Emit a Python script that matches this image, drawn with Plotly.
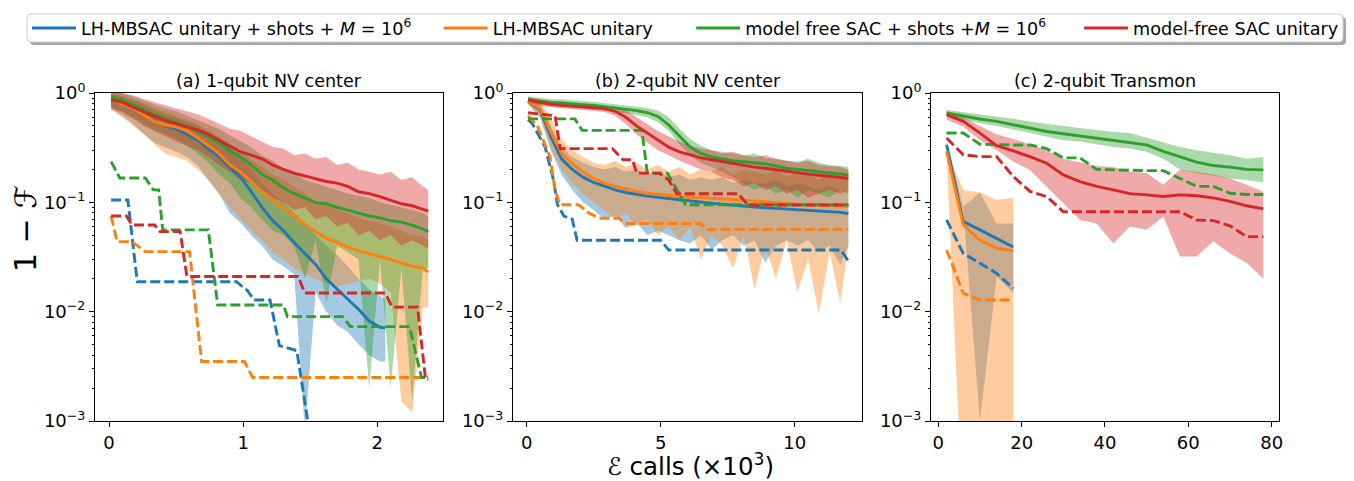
import plotly.graph_objects as go

W, H = 1354, 481

# ---------------- data ----------------
series_names = [
    "LH-MBSAC unitary + shots + <i>M</i> = 10<sup>6</sup>",
    "LH-MBSAC unitary",
    "model free SAC + shots +<i>M</i> = 10<sup>6</sup>",
    "model-free SAC unitary",
]
legend_pad = [4, 6, 5, 0]  # non-breaking spaces after each legend label
series_colors = ["#1f77b4", "#ff7f0e", "#2ca02c", "#d62728"]
band_colors = ["rgba(31,119,180,0.4)", "rgba(255,127,14,0.4)",
               "rgba(44,160,44,0.4)", "rgba(214,39,40,0.4)"]

panel_titles = ["(a) 1-qubit NV center", "(b) 2-qubit NV center", "(c) 2-qubit Transmon"]

# Panel (a)
xa = [0.015, 0.10, 0.18, 0.26, 0.34, 0.42, 0.50, 0.58, 0.66, 0.74, 0.82, 0.90, 0.98,
      1.06, 1.14, 1.22, 1.30, 1.38, 1.46, 1.54, 1.62, 1.70, 1.78, 1.86, 1.94, 2.02,
      2.10, 2.18, 2.26, 2.34, 2.38]
xa_blue = [0.015, 0.10, 0.18, 0.26, 0.34, 0.42, 0.50, 0.58, 0.66, 0.74, 0.82, 0.90, 0.98,
           1.06, 1.14, 1.22, 1.30, 1.38, 1.46, 1.54, 1.62, 1.70, 1.78, 1.86, 1.94, 2.02, 2.06]
a_blue_mean = [0.87, 0.80, 0.72, 0.63, 0.56, 0.50, 0.47, 0.42, 0.37, 0.31, 0.26, 0.21, 0.17,
               0.125, 0.09, 0.068, 0.055, 0.043, 0.034, 0.027, 0.02, 0.016, 0.013, 0.0105,
               0.0082, 0.0072, 0.0071]
a_blue_hi = [0.98, 0.92, 0.85, 0.78, 0.70, 0.64, 0.60, 0.55, 0.50, 0.44, 0.38, 0.32, 0.26,
             0.20, 0.15, 0.12, 0.10, 0.08, 0.065, 0.05, 0.04, 0.033, 0.026, 0.02, 0.016,
             0.014, 0.013]
a_blue_lo = [0.72, 0.62, 0.52, 0.42, 0.35, 0.32, 0.29, 0.26, 0.22, 0.16, 0.12, 0.08, 0.065,
             0.05, 0.04, 0.03, 0.026, 0.022, 0.0008, 0.015, 0.01, 0.0075, 0.0065, 0.005,
             0.004, 0.0035, 0.0035]
a_orange_mean = [0.88, 0.80, 0.72, 0.63, 0.55, 0.51, 0.49, 0.45, 0.39, 0.33, 0.28, 0.22, 0.19,
                 0.155, 0.125, 0.105, 0.09, 0.075, 0.063, 0.054, 0.047, 0.043, 0.039, 0.036,
                 0.034, 0.032, 0.03, 0.028, 0.026, 0.025, 0.023]
a_orange_hi = [1.0, 0.95, 0.88, 0.80, 0.72, 0.66, 0.62, 0.57, 0.52, 0.46, 0.40, 0.34, 0.29,
               0.25, 0.21, 0.18, 0.16, 0.14, 0.12, 0.10, 0.095, 0.085, 0.08, 0.072, 0.068,
               0.065, 0.06, 0.055, 0.05, 0.05, 0.045]
a_orange_lo = [0.70, 0.60, 0.50, 0.42, 0.34, 0.28, 0.26, 0.24, 0.20, 0.16, 0.12, 0.09, 0.07,
               0.055, 0.045, 0.035, 0.03, 0.025, 0.022, 0.02, 0.018, 0.017, 0.018, 0.019,
               0.02, 0.018, 0.015, 0.0015, 0.0012, 0.011, 0.011]
a_green_mean = [0.92, 0.86, 0.78, 0.70, 0.63, 0.58, 0.54, 0.50, 0.45, 0.40, 0.35, 0.30, 0.26,
                0.22, 0.18, 0.16, 0.135, 0.12, 0.11, 0.10, 0.097, 0.09, 0.085, 0.08, 0.075,
                0.072, 0.068, 0.066, 0.062, 0.057, 0.054]
a_green_hi = [1.05, 1.0, 0.93, 0.85, 0.78, 0.72, 0.68, 0.62, 0.57, 0.52, 0.47, 0.41, 0.36,
              0.32, 0.27, 0.24, 0.20, 0.19, 0.16, 0.15, 0.14, 0.13, 0.12, 0.115, 0.11, 0.10,
              0.095, 0.09, 0.085, 0.08, 0.075]
a_green_lo = [0.75, 0.68, 0.60, 0.52, 0.46, 0.42, 0.38, 0.33, 0.28, 0.23, 0.18, 0.15, 0.11,
              0.09, 0.07, 0.055, 0.05, 0.04, 0.02, 0.045, 0.012, 0.04, 0.035, 0.03, 0.002,
              0.03, 0.002, 0.025, 0.0015, 0.025, 0.025]
a_red_mean = [0.87, 0.82, 0.74, 0.67, 0.61, 0.56, 0.52, 0.49, 0.46, 0.42, 0.37, 0.33, 0.29,
              0.27, 0.25, 0.22, 0.20, 0.185, 0.175, 0.165, 0.155, 0.15, 0.14, 0.125, 0.12,
              0.113, 0.105, 0.097, 0.093, 0.087, 0.083]
a_red_hi = [1.05, 1.0, 0.95, 0.88, 0.82, 0.76, 0.72, 0.68, 0.64, 0.58, 0.52, 0.47, 0.45,
            0.40, 0.36, 0.32, 0.31, 0.27, 0.28, 0.25, 0.26, 0.22, 0.23, 0.20, 0.19, 0.18,
            0.19, 0.16, 0.17, 0.14, 0.13]
a_red_lo = [0.72, 0.66, 0.58, 0.50, 0.45, 0.40, 0.36, 0.33, 0.30, 0.26, 0.22, 0.19, 0.16,
            0.15, 0.13, 0.11, 0.10, 0.085, 0.09, 0.07, 0.075, 0.06, 0.065, 0.05, 0.055,
            0.045, 0.05, 0.04, 0.045, 0.04, 0.038]

a_blue_dash_x = [0.015, 0.14, 0.21, 0.95, 1.03, 1.08, 1.20, 1.27, 1.40, 1.52]
a_blue_dash_y = [0.105, 0.105, 0.0188, 0.0188, 0.0157, 0.0128, 0.0128, 0.0049, 0.0044, 0.0005]
a_orange_dash_x = [0.015, 0.06, 0.17, 0.27, 0.60, 0.69, 1.01, 1.07, 2.38]
a_orange_dash_y = [0.075, 0.0437, 0.0437, 0.0354, 0.0354, 0.0035, 0.0035, 0.0025, 0.0025]
a_green_dash_x = [0.015, 0.08, 0.27, 0.33, 0.37, 0.40, 0.74, 0.81, 1.30, 1.33, 1.74, 1.80,
                  2.24, 2.33, 2.38]
a_green_dash_y = [0.236, 0.167, 0.167, 0.13, 0.13, 0.056, 0.056, 0.0115, 0.0115, 0.009,
                  0.009, 0.0073, 0.0073, 0.0025, 0.0025]
a_red_dash_x = [0.015, 0.13, 0.17, 0.34, 0.38, 0.53, 0.58, 1.41, 1.46, 2.06, 2.11, 2.30,
                2.36, 2.38]
a_red_dash_y = [0.075, 0.075, 0.062, 0.062, 0.054, 0.054, 0.021, 0.021, 0.0148, 0.0148,
                0.011, 0.011, 0.0024, 0.0024]

# Panel (b)
xb = [0.05, 0.5, 0.9, 1.3, 1.7, 2.1, 2.5, 2.9, 3.3, 3.7, 4.1, 4.5, 4.9, 5.3, 5.7, 6.1, 6.5,
      6.9, 7.3, 7.7, 8.1, 8.5, 8.9, 9.3, 9.7, 10.1, 10.5, 10.9, 11.3, 11.7, 12.0]
b_blue_mean = [0.84, 0.70, 0.40, 0.25, 0.20, 0.17, 0.152, 0.14, 0.13, 0.123, 0.118, 0.114,
               0.111, 0.108, 0.105, 0.103, 0.10, 0.098, 0.096, 0.094, 0.092, 0.09, 0.089,
               0.088, 0.087, 0.086, 0.085, 0.084, 0.082, 0.081, 0.079]
b_blue_hi = [0.88, 0.80, 0.50, 0.32, 0.26, 0.23, 0.21, 0.20, 0.21, 0.19, 0.20, 0.18, 0.19,
             0.17, 0.18, 0.16, 0.17, 0.16, 0.17, 0.15, 0.16, 0.15, 0.15, 0.16, 0.14, 0.15,
             0.14, 0.13, 0.14, 0.13, 0.13]
b_blue_lo = [0.80, 0.60, 0.30, 0.18, 0.13, 0.10, 0.085, 0.07, 0.075, 0.058, 0.065, 0.05,
             0.055, 0.05, 0.045, 0.042, 0.05, 0.037, 0.045, 0.05, 0.04, 0.045, 0.028, 0.04,
             0.045, 0.04, 0.045, 0.035, 0.04, 0.027, 0.04]
b_orange_mean = [0.84, 0.72, 0.44, 0.28, 0.225, 0.19, 0.165, 0.15, 0.14, 0.132, 0.126,
                 0.121, 0.118, 0.115, 0.113, 0.112, 0.11, 0.109, 0.108, 0.106, 0.104, 0.102,
                 0.10, 0.099, 0.097, 0.096, 0.095, 0.094, 0.093, 0.092, 0.092]
b_orange_hi = [0.90, 0.85, 0.58, 0.38, 0.30, 0.26, 0.23, 0.22, 0.24, 0.21, 0.23, 0.20, 0.22,
               0.19, 0.21, 0.18, 0.20, 0.19, 0.21, 0.18, 0.20, 0.19, 0.18, 0.20, 0.17, 0.19,
               0.18, 0.16, 0.18, 0.16, 0.17]
b_orange_lo = [0.78, 0.60, 0.32, 0.20, 0.15, 0.12, 0.10, 0.085, 0.07, 0.08, 0.06, 0.07,
               0.05, 0.06, 0.045, 0.06, 0.03, 0.05, 0.04, 0.025, 0.05, 0.016, 0.04, 0.02,
               0.045, 0.015, 0.03, 0.0095, 0.035, 0.012, 0.04]
b_green_mean = [0.87, 0.84, 0.82, 0.81, 0.80, 0.78, 0.77, 0.75, 0.73, 0.71, 0.69, 0.66, 0.61,
                0.51, 0.40, 0.32, 0.28, 0.26, 0.25, 0.24, 0.235, 0.23, 0.225, 0.215, 0.205,
                0.20, 0.195, 0.19, 0.185, 0.18, 0.178]
b_green_hi = [0.93, 0.90, 0.88, 0.87, 0.86, 0.84, 0.83, 0.81, 0.79, 0.77, 0.75, 0.73, 0.69,
              0.60, 0.47, 0.38, 0.33, 0.30, 0.29, 0.28, 0.27, 0.28, 0.255, 0.25, 0.24, 0.235,
              0.25, 0.23, 0.22, 0.215, 0.21]
b_green_lo = [0.81, 0.78, 0.76, 0.75, 0.74, 0.72, 0.71, 0.69, 0.67, 0.65, 0.63, 0.60, 0.54,
              0.45, 0.34, 0.27, 0.23, 0.21, 0.19, 0.17, 0.15, 0.13, 0.14, 0.12, 0.13, 0.11,
              0.13, 0.12, 0.11, 0.13, 0.12]
b_red_mean = [0.86, 0.82, 0.79, 0.77, 0.76, 0.75, 0.74, 0.72, 0.68, 0.60, 0.50, 0.43, 0.37,
              0.32, 0.29, 0.27, 0.255, 0.245, 0.235, 0.225, 0.218, 0.21, 0.205, 0.198, 0.192,
              0.186, 0.181, 0.177, 0.173, 0.169, 0.166]
b_red_hi = [0.92, 0.87, 0.84, 0.82, 0.81, 0.80, 0.79, 0.77, 0.75, 0.70, 0.60, 0.52, 0.45,
            0.40, 0.36, 0.33, 0.31, 0.30, 0.28, 0.29, 0.27, 0.26, 0.27, 0.25, 0.24, 0.23,
            0.24, 0.22, 0.215, 0.21, 0.20]
b_red_lo = [0.80, 0.77, 0.74, 0.72, 0.71, 0.70, 0.69, 0.67, 0.62, 0.52, 0.42, 0.35, 0.30,
            0.27, 0.24, 0.22, 0.20, 0.19, 0.17, 0.16, 0.14, 0.15, 0.13, 0.14, 0.12, 0.13,
            0.11, 0.12, 0.13, 0.12, 0.13]

b_blue_dash_x = [0.05, 0.2, 0.69, 1.0, 1.15, 1.39, 1.7, 1.88, 5.0, 5.3, 11.73, 12.0]
b_blue_dash_y = [0.57, 0.53, 0.32, 0.16, 0.095, 0.075, 0.07, 0.045, 0.045, 0.0366, 0.0366, 0.029]
b_orange_dash_x = [0.05, 0.4, 0.87, 1.06, 1.24, 1.94, 2.32, 2.7, 3.45, 3.68, 6.5, 6.68, 12.0]
b_orange_dash_y = [0.62, 0.5, 0.26, 0.13, 0.095, 0.095, 0.08, 0.0715, 0.0715, 0.064, 0.064,
                   0.0566, 0.0566]
b_green_dash_x = [0.05, 1.8, 2.07, 4.3, 4.5, 5.25, 5.93, 12.0]
b_green_dash_y = [0.58, 0.58, 0.455, 0.455, 0.185, 0.185, 0.095, 0.095]
b_red_dash_x = [0.05, 1.06, 1.25, 3.2, 3.6, 3.95, 4.1, 4.95, 5.3, 5.6, 7.9, 8.25, 12.0]
b_red_dash_y = [0.66, 0.62, 0.31, 0.31, 0.245, 0.245, 0.185, 0.185, 0.16, 0.12, 0.12,
                0.0946, 0.0946]

# Panel (c)
xc = [2, 6, 10, 14, 18, 22, 26, 30, 34, 38, 42, 46, 50, 54, 58, 62, 66, 70, 74, 78]
xc_short = [2, 6, 10, 14, 18]
c_blue_mean = [0.336, 0.0666, 0.056, 0.047, 0.039]
c_blue_hi = [0.36, 0.091, 0.123, 0.064, 0.064]
c_blue_lo = [0.31, 0.085, 0.001, 0.021, 0.0147]
c_orange_mean = [0.292, 0.062, 0.045, 0.038, 0.036]
c_orange_hi = [0.30, 0.13, 0.123, 0.105, 0.11]
c_orange_lo = [0.28, 0.0001, 0.0001, 0.0001, 0.0001]
c_green_mean = [0.656, 0.611, 0.578, 0.55, 0.513, 0.478, 0.445, 0.424, 0.406, 0.387, 0.368,
                0.355, 0.336, 0.292, 0.263, 0.233, 0.217, 0.21, 0.20, 0.198]
c_green_hi = [0.70, 0.67, 0.64, 0.61, 0.58, 0.55, 0.52, 0.50, 0.48, 0.46, 0.44, 0.43, 0.39,
              0.35, 0.32, 0.30, 0.285, 0.27, 0.25, 0.26]
c_green_lo = [0.62, 0.57, 0.53, 0.50, 0.46, 0.43, 0.40, 0.37, 0.36, 0.34, 0.32, 0.31, 0.29,
              0.25, 0.20, 0.185, 0.175, 0.165, 0.16, 0.152]
c_red_mean = [0.633, 0.55, 0.43, 0.33, 0.295, 0.262, 0.228, 0.178, 0.155, 0.14, 0.13, 0.12,
              0.117, 0.113, 0.117, 0.115, 0.11, 0.102, 0.093, 0.087]
c_red_hi = [0.68, 0.60, 0.50, 0.42, 0.38, 0.34, 0.30, 0.25, 0.23, 0.215, 0.21, 0.19, 0.185,
            0.145, 0.20, 0.19, 0.18, 0.165, 0.145, 0.125]
c_red_lo = [0.57, 0.495, 0.37, 0.30, 0.236, 0.198, 0.14, 0.098, 0.069, 0.064, 0.042, 0.06,
            0.056, 0.074, 0.032, 0.032, 0.044, 0.034, 0.028, 0.02]
c_blue_dash = [0.069, 0.034, 0.0277, 0.0224, 0.0163]
c_orange_dash = [0.0366, 0.0147, 0.0128, 0.0128, 0.0128]
c_green_dash = [0.43, 0.43, 0.34, 0.335, 0.335, 0.335, 0.31, 0.255, 0.255, 0.20, 0.198,
                0.195, 0.195, 0.195, 0.165, 0.14, 0.14, 0.121, 0.118, 0.118]
c_red_dash = [0.387, 0.272, 0.262, 0.262, 0.172, 0.126, 0.113, 0.082, 0.082, 0.082, 0.082,
              0.082, 0.082, 0.082, 0.082, 0.069, 0.068, 0.061, 0.0486, 0.0486]

y_tick_vals = [0.001, 0.01, 0.1, 1]
y_tick_text = ["10<sup>\u22123</sup>", "10<sup>\u22122</sup>", "10<sup>\u22121</sup>", "10<sup>0</sup>"]
x_ticks = [[0, 1, 2], [0, 5, 10], [0, 20, 40, 60, 80]]

# ---------------- layout geometry ----------------
FONT = "DejaVu Sans"
panel_px = [(95, 443), (513, 862), (931, 1279)]
y_top, y_bot = 93, 421
x_ranges = [[-0.105, 2.49], [-0.51, 12.51], [-1.75, 81.76]]
legend_box = (27, 14, 1343, 42)  # left, top, right, bottom in px

panels = [
    [
        (xa_blue, a_blue_mean, a_blue_lo, a_blue_hi, a_blue_dash_x, a_blue_dash_y),
        (xa, a_orange_mean, a_orange_lo, a_orange_hi, a_orange_dash_x, a_orange_dash_y),
        (xa, a_green_mean, a_green_lo, a_green_hi, a_green_dash_x, a_green_dash_y),
        (xa, a_red_mean, a_red_lo, a_red_hi, a_red_dash_x, a_red_dash_y),
    ],
    [
        (xb, b_blue_mean, b_blue_lo, b_blue_hi, b_blue_dash_x, b_blue_dash_y),
        (xb, b_orange_mean, b_orange_lo, b_orange_hi, b_orange_dash_x, b_orange_dash_y),
        (xb, b_green_mean, b_green_lo, b_green_hi, b_green_dash_x, b_green_dash_y),
        (xb, b_red_mean, b_red_lo, b_red_hi, b_red_dash_x, b_red_dash_y),
    ],
    [
        (xc_short, c_blue_mean, c_blue_lo, c_blue_hi, xc_short, c_blue_dash),
        (xc_short, c_orange_mean, c_orange_lo, c_orange_hi, xc_short, c_orange_dash),
        (xc, c_green_mean, c_green_lo, c_green_hi, xc, c_green_dash),
        (xc, c_red_mean, c_red_lo, c_red_hi, xc, c_red_dash),
    ],
]

fig = go.Figure()
minor_vals = [m * 10 ** e for e in range(-3, 0) for m in range(2, 10)]


def axis_names(p):
    return ("x" if p == 0 else f"x{p + 1}", "y" if p == 0 else f"y{p + 1}")


# bands first
for p, panel in enumerate(panels):
    xn, yn = axis_names(p)
    for s, (xs, mean, lo, hi, dx, dy) in enumerate(panel):
        fig.add_trace(go.Scatter(
            x=list(xs) + list(xs)[::-1], y=list(hi) + list(lo)[::-1],
            fill="toself", fillcolor=band_colors[s], line=dict(width=0),
            mode="lines", hoverinfo="skip", showlegend=False, xaxis=xn, yaxis=yn))

# then lines
for p, panel in enumerate(panels):
    xn, yn = axis_names(p)
    for s, (xs, mean, lo, hi, dx, dy) in enumerate(panel):
        fig.add_trace(go.Scatter(
            x=xs, y=mean, mode="lines",
            name=series_names[s] + "\u00a0" * legend_pad[s],
            line=dict(color=series_colors[s], width=2.9),
            showlegend=(p == 0), legendgroup=str(s), xaxis=xn, yaxis=yn))
        fig.add_trace(go.Scatter(
            x=dx, y=dy, mode="lines", showlegend=False,
            line=dict(color=series_colors[s], width=2.9, dash="10px,4px"),
            xaxis=xn, yaxis=yn))


def rounded_rect(l, t, r, b, rad=4):
    X = lambda v: v / W
    Y = lambda v: 1 - v / H
    return (f"M {X(l + rad)} {Y(t)} L {X(r - rad)} {Y(t)} Q {X(r)} {Y(t)} {X(r)} {Y(t + rad)} "
            f"L {X(r)} {Y(b - rad)} Q {X(r)} {Y(b)} {X(r - rad)} {Y(b)} "
            f"L {X(l + rad)} {Y(b)} Q {X(l)} {Y(b)} {X(l)} {Y(b - rad)} "
            f"L {X(l)} {Y(t + rad)} Q {X(l)} {Y(t)} {X(l + rad)} {Y(t)} Z")


lb_l, lb_t, lb_r, lb_b = legend_box
layout = dict(
    width=W, height=H, margin=dict(l=0, r=0, t=0, b=0, autoexpand=False),
    plot_bgcolor="white", paper_bgcolor="white",
    font=dict(family=FONT, color="black"),
    showlegend=True,
    legend=dict(orientation="h", x=lb_l / W, y=1 - ((lb_t + lb_b) / 2) / H,
                xanchor="left", yanchor="middle",
                bgcolor="rgba(0,0,0,0)", borderwidth=0,
                font=dict(size=17.6, family=FONT), itemwidth=44, tracegroupgap=0),
    annotations=[],
    shapes=[
        dict(type="path", xref="paper", yref="paper",
             path=rounded_rect(lb_l + 3, lb_t + 3, lb_r + 3, lb_b + 3),
             fillcolor="rgba(0,0,0,0.35)", line=dict(width=0), layer="below"),
        dict(type="path", xref="paper", yref="paper",
             path=rounded_rect(lb_l, lb_t, lb_r, lb_b),
             fillcolor="white", line=dict(color="#cccccc", width=1), layer="below"),
    ],
)
for p in range(3):
    x0, x1 = panel_px[p]
    sx = "" if p == 0 else str(p + 1)
    layout["xaxis" + sx] = dict(
        domain=[x0 / W, x1 / W], range=x_ranges[p], anchor="y" + sx,
        showgrid=False, zeroline=False, showline=True, mirror=True,
        linecolor="black", linewidth=1, ticks="outside", ticklen=5, tickcolor="black",
        tickmode="array", tickvals=x_ticks[p], tickfont=dict(size=18, family=FONT))
    layout["yaxis" + sx] = dict(
        domain=[1 - y_bot / H, 1 - y_top / H], type="log", range=[-3, 0],
        anchor="x" + sx, showgrid=False, zeroline=False, showline=True, mirror=True,
        linecolor="black", linewidth=1, ticks="outside", ticklen=5, tickcolor="black",
        tickmode="array", tickvals=y_tick_vals, ticktext=y_tick_text,
        tickfont=dict(size=18, family=FONT),
        minor=dict(tickmode="array", tickvals=minor_vals, ticks="outside", ticklen=2.5,
                   tickcolor="black", showgrid=False))
    layout["annotations"].append(dict(
        text=panel_titles[p], x=(x0 + x1) / 2 / W, y=1 - 81 / H, xref="paper", yref="paper",
        showarrow=False, xanchor="center", yanchor="middle", font=dict(size=17.5, family=FONT)))

layout["annotations"].append(dict(
    text="1 \u2212 \u2131", x=25 / W, y=1 - 229 / H, xref="paper", yref="paper",
    showarrow=False, textangle=-90, xanchor="center", yanchor="middle",
    font=dict(size=30, family=FONT)))
layout["annotations"].append(dict(
    text="\u2130 calls (\u00d710<sup>3</sup>)", x=691 / W, y=1 - 465 / H, xref="paper",
    yref="paper", showarrow=False, xanchor="center", yanchor="middle",
    font=dict(size=24.5, family=FONT)))

fig.update_layout(**layout)
fig.write_html("out.html", config={"displayModeBar": False},
               post_script="document.body.style.margin='0';document.body.style.padding='0';")
